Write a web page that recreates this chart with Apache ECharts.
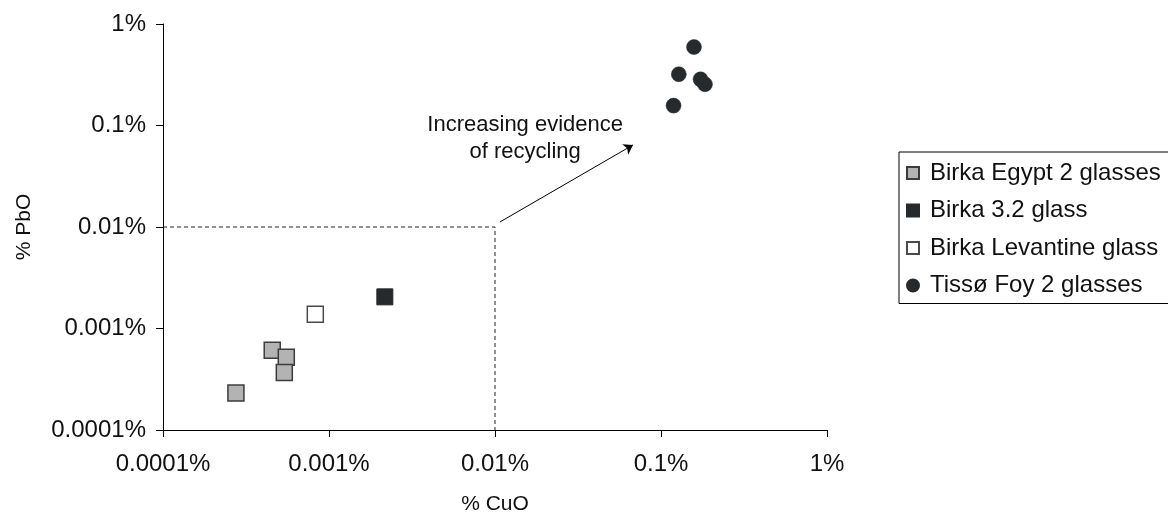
<!DOCTYPE html>
<html><head><meta charset="utf-8">
<script src="https://cdn.jsdelivr.net/npm/echarts@6/dist/echarts.min.js"></script>
<style>html,body{margin:0;padding:0;background:#fff}#c{width:1168px;height:515px}</style>
</head><body><div id="c"></div>
<script>
// Values in percent
const tickLabels = ['0.0001%', '0.001%', '0.01%', '0.1%', '1%'];
const egyptCuO = [0.000275, 0.000455, 0.000553, 0.000538];
const egyptPbO = [0.000231, 0.000612, 0.000522, 0.000368];
const b32CuO = [0.00217];
const b32PbO = [0.00205];
const levCuO = [0.000827];
const levPbO = [0.00138];
const tissoCuO = [0.158, 0.128, 0.173, 0.184, 0.119];
const tissoPbO = [0.593, 0.320, 0.285, 0.255, 0.157];
const guideX = [0.0001, 0.01, 0.01];
const guideY = [0.01, 0.01, 0.0001];
const arrowFrom = [0.0107, 0.0112];
const arrowTo = [0.0678, 0.0643];
const notePos = [0.0152, 0.0754];
const noteText = 'Increasing evidence\nof recycling';
const names = ['Birka Egypt 2 glasses', 'Birka 3.2 glass', 'Birka Levantine glass', 'Tissø Foy 2 glasses'];

const zip = (a, b) => a.map((v, i) => [v, b[i]]);
const FONT = 'Liberation Sans, Arial, Helvetica, sans-serif';
const fmt = v => tickLabels[Math.round(Math.log10(v)) + 4] || '';
const SQ = 'path://M0,0H1V1H0Z';
const CI = 'path://M1,0.5A0.5,0.5,0,1,1,0,0.5A0.5,0.5,0,1,1,1,0.5Z';

const chart = echarts.init(document.getElementById('c'), null, {renderer: 'canvas'});
const axisCommon = {
  type: 'log', logBase: 10, min: 0.0001, max: 1,
  axisLine: {show: true, lineStyle: {color: '#000', width: 1}},
  axisTick: {show: true, inside: false, length: 7, lineStyle: {color: '#000'}},
  splitLine: {show: false}, minorTick: {show: false},
  nameLocation: 'middle',
  nameTextStyle: {fontFamily: FONT, fontSize: 21, color: '#111'}
};
chart.setOption({
  animation: false,
  textStyle: {fontFamily: FONT},
  grid: {left: 163, right: 341, top: 24, bottom: 85, containLabel: false, outerBoundsMode: 'none'},
  xAxis: Object.assign({}, axisCommon, {
    name: '% CuO', nameGap: 64,
    axisLabel: {formatter: fmt, fontFamily: FONT, fontSize: 24, color: '#111', margin: 22}
  }),
  yAxis: Object.assign({}, axisCommon, {
    name: '% PbO', nameGap: 128,
    axisLabel: {formatter: fmt, fontFamily: FONT, fontSize: 24, color: '#111', margin: 17}
  }),
  legend: {
    data: [
      {name: names[0], icon: SQ},
      {name: names[1], icon: SQ},
      {name: names[2], icon: SQ},
      {name: names[3], icon: CI}
    ],
    orient: 'vertical', left: 899, top: 152,
    padding: [7, 16, 4, 7], itemGap: 9.5, itemWidth: 24, itemHeight: 12,
    borderColor: '#000', borderWidth: 1, borderRadius: 0,
    textStyle: {fontFamily: FONT, fontSize: 24, color: '#111', lineHeight: 28},
    selectedMode: false
  },
  series: [
    {name: 'guide', type: 'line', data: zip(guideX, guideY), symbol: 'none', silent: true,
     lineStyle: {color: '#222', width: 1, type: [4, 3]}, z: 1,
     markLine: {silent: true, symbol: ['none', 'arrow'], symbolSize: 9, label: {show: false},
       lineStyle: {color: '#000', width: 1, type: 'solid'},
       data: [[{coord: arrowFrom}, {coord: arrowTo}]]}},
    {name: 'note', type: 'scatter', data: [notePos], symbolSize: 1, silent: true,
     itemStyle: {color: 'rgba(0,0,0,0)', opacity: 1},
     label: {show: true, position: 'inside', formatter: noteText, fontFamily: FONT, fontSize: 22,
       lineHeight: 27, color: '#111', align: 'center'}},
    {name: names[0], type: 'scatter', symbol: 'rect', symbolSize: 16, data: zip(egyptCuO, egyptPbO),
     itemStyle: {color: '#b3b3b3', borderColor: '#3c3c3c', borderWidth: 1.5, opacity: 1}, z: 3},
    {name: names[1], type: 'scatter', symbol: 'rect', symbolSize: 16, data: zip(b32CuO, b32PbO),
     itemStyle: {color: '#262a2d', borderColor: '#262a2d', borderWidth: 1, opacity: 1}, z: 3},
    {name: names[2], type: 'scatter', symbol: 'rect', symbolSize: 16, data: zip(levCuO, levPbO),
     itemStyle: {color: '#ffffff', borderColor: '#4a4a4a', borderWidth: 1.5, opacity: 1}, z: 3},
    {name: names[3], type: 'scatter', symbol: 'circle', symbolSize: 15, data: zip(tissoCuO, tissoPbO),
     itemStyle: {color: '#262a2d', borderColor: '#262a2d', borderWidth: 0.5, opacity: 1}, z: 3}
  ]
});
</script></body></html>
